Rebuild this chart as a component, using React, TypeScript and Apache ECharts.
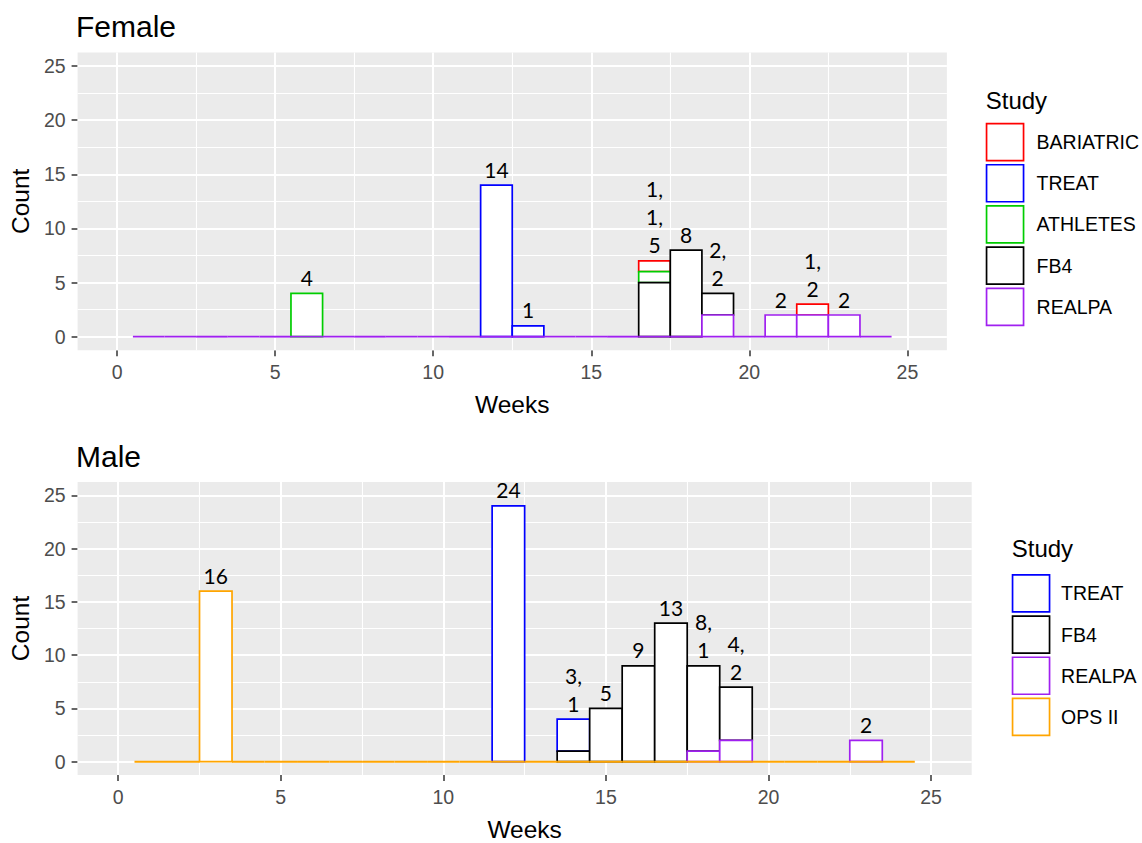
import React, { useEffect, useRef } from "react";
import * as echarts from "echarts";

// ---------- data ----------
const weeks = [1, 2, 3, 4, 5, 6, 7, 8, 9, 10, 11, 12, 13, 14, 15, 16, 17, 18, 19, 20, 21, 22, 23, 24];
const tickValues = [0, 5, 10, 15, 20, 25];
const minorValues = [2.5, 7.5, 12.5, 17.5, 22.5];

const femaleStudies = ["BARIATRIC", "TREAT", "ATHLETES", "FB4", "REALPA"];
const femaleColors = ["#FF0000", "#0000FF", "#00CD00", "#000000", "#A020F0"];
const femaleBariatric = [0, 0, 0, 0, 0, 0, 0, 0, 0, 0, 0, 0, 0, 0, 0, 0, 1, 0, 0, 0, 0, 1, 0, 0];
const femaleTreat = [0, 0, 0, 0, 0, 0, 0, 0, 0, 0, 0, 14, 1, 0, 0, 0, 0, 0, 0, 0, 0, 0, 0, 0];
const femaleAthletes = [0, 0, 0, 0, 0, 4, 0, 0, 0, 0, 0, 0, 0, 0, 0, 0, 1, 0, 0, 0, 0, 0, 0, 0];
const femaleFb4 = [0, 0, 0, 0, 0, 0, 0, 0, 0, 0, 0, 0, 0, 0, 0, 0, 5, 8, 2, 0, 0, 0, 0, 0];
const femaleRealpa = [0, 0, 0, 0, 0, 0, 0, 0, 0, 0, 0, 0, 0, 0, 0, 0, 0, 0, 2, 0, 2, 2, 2, 0];
const femaleLabelWeeks = [6, 12, 13, 17, 18, 19, 21, 22, 23];
const femaleLabels = ["4", "14", "1", "1,\n1,\n5", "8", "2,\n2", "2", "1,\n2", "2"];

const maleStudies = ["TREAT", "FB4", "REALPA", "OPS II"];
const maleColors = ["#0000FF", "#000000", "#A020F0", "#FFA500"];
const maleTreat = [0, 0, 0, 0, 0, 0, 0, 0, 0, 0, 0, 24, 0, 3, 0, 0, 0, 0, 0, 0, 0, 0, 0, 0];
const maleFb4 = [0, 0, 0, 0, 0, 0, 0, 0, 0, 0, 0, 0, 0, 1, 5, 9, 13, 8, 5, 0, 0, 0, 0, 0];
const maleRealpa = [0, 0, 0, 0, 0, 0, 0, 0, 0, 0, 0, 0, 0, 0, 0, 0, 0, 1, 2, 0, 0, 0, 2, 0];
const maleOps = [0, 0, 16, 0, 0, 0, 0, 0, 0, 0, 0, 0, 0, 0, 0, 0, 0, 0, 0, 0, 0, 0, 0, 0];
const maleLabelWeeks = [3, 12, 14, 15, 16, 17, 18, 19, 23];
const maleLabels = ["16", "24", "3,\n1", "5", "9", "13", "8,\n1", "4,\n2", "2"];

const FONT = "'Liberation Sans', Arial, sans-serif";
const LABEL_FONT = "Lato, 'Open Sans', sans-serif";

function buildPanel(
  gridIndex: number,
  studies: string[],
  colors: string[],
  counts: number[][],
  labelWeeks: number[],
  labels: string[]
) {
  // stack from the last study (bottom) upwards
  const bases: number[][] = counts.map(() => weeks.map(() => 0));
  const cum = weeks.map(() => 0);
  for (let s = counts.length - 1; s >= 0; s--) {
    weeks.forEach((_, i) => {
      bases[s][i] = cum[i];
      cum[i] += counts[s][i];
    });
  }
  const series: any[] = [];
  const lineData: any[] = [];
  tickValues.forEach((v) => {
    lineData.push({ yAxis: v, lineStyle: { width: 2 } });
    lineData.push({ xAxis: v, lineStyle: { width: 2 } });
  });
  minorValues.forEach((v) => {
    lineData.push({ yAxis: v, lineStyle: { width: 1.1 } });
    lineData.push({ xAxis: v, lineStyle: { width: 1.1 } });
  });
  series.push({
    type: "line",
    name: "grid" + gridIndex,
    xAxisIndex: gridIndex,
    yAxisIndex: gridIndex,
    data: [],
    silent: true,
    z: 1,
    markLine: {
      silent: true,
      z: 1,
      symbol: ["none", "none"],
      label: { show: false },
      emphasis: { disabled: true },
      lineStyle: { color: "#FFFFFF", type: "solid" },
      data: lineData,
    },
  });
  const last = studies.length - 1;
  studies.forEach((name, s) => {
    const color = colors[s];
    series.push({
      type: "custom",
      name,
      xAxisIndex: gridIndex,
      yAxisIndex: gridIndex,
      z: 2,
      silent: true,
      itemStyle: { color: "#FFFFFF", borderColor: color },
      data: weeks.map((w, i) => [w, bases[s][i], bases[s][i] + counts[s][i]]),
      renderItem: (params: any, api: any) => {
        const lo = api.value(1);
        const hi = api.value(2);
        if (hi === lo && s !== last) return null;
        const p0 = api.coord([api.value(0) - 0.5, lo]);
        const p1 = api.coord([api.value(0) + 0.5, hi]);
        if (hi === lo) {
          return {
            type: "line",
            shape: { x1: p0[0], y1: p0[1], x2: p1[0], y2: p0[1] },
            style: { stroke: color, lineWidth: 1.9 },
          };
        }
        return {
          type: "rect",
          shape: { x: p0[0], y: p1[1], width: p1[0] - p0[0], height: p0[1] - p1[1] },
          style: { fill: "#FFFFFF", stroke: color, lineWidth: 1.7 },
        };
      },
    });
  });
  series.push({
    type: "custom",
    name: "labels" + gridIndex,
    xAxisIndex: gridIndex,
    yAxisIndex: gridIndex,
    z: 3,
    silent: true,
    data: labelWeeks.map((w) => [w, cum[weeks.indexOf(w)]]),
    renderItem: (params: any, api: any) => {
      const p = api.coord([api.value(0), api.value(1)]);
      return {
        type: "text",
        x: p[0],
        y: p[1] - 2,
        style: {
          text: labels[params.dataIndex],
          fill: "#000000",
          fontSize: 21,
          fontFamily: LABEL_FONT,
          lineHeight: 28,
          align: "center",
          verticalAlign: "bottom",
        },
      };
    },
  });
  return series;
}

function axisPair(gridIndex: number) {
  const x = {
    type: "value",
    gridIndex,
    min: -1.25,
    max: 26.25,
    name: "Weeks",
    nameLocation: "middle",
    nameGap: 42,
    nameTextStyle: { fontSize: 24.5, color: "#000000", fontFamily: FONT },
    axisLine: { show: false, onZero: false },
    axisTick: { show: true, customValues: tickValues, length: 6, lineStyle: { color: "#333333", width: 1.5 } },
    axisLabel: { customValues: tickValues, color: "#4D4D4D", fontSize: 19.5, fontFamily: FONT, margin: 12 },
    splitLine: { show: false },
  };
  const y = {
    type: "value",
    gridIndex,
    min: -1.25,
    max: 26.25,
    name: "Count",
    nameLocation: "middle",
    nameRotate: 90,
    nameGap: 44,
    nameTextStyle: { fontSize: 24.5, color: "#000000", fontFamily: FONT },
    axisLine: { show: false, onZero: false },
    axisTick: { show: true, customValues: tickValues, length: 6, lineStyle: { color: "#333333", width: 1.5 } },
    axisLabel: { customValues: tickValues, color: "#4D4D4D", fontSize: 19.5, fontFamily: FONT, margin: 12 },
    splitLine: { show: false },
  };
  return { x, y };
}

function legendFor(studies: string[], colors: string[], left: number, top: number, textPad: number) {
  return {
    orient: "vertical",
    left,
    top,
    padding: 0,
    itemWidth: 37,
    itemHeight: 37,
    itemGap: 2.5,
    selectedMode: false,
    textStyle: { fontSize: 19.5, color: "#000000", fontFamily: FONT, padding: [0, 0, 0, textPad] },
    data: studies.map((name, i) => ({
      name,
      icon: "rect",
      itemStyle: { color: "#FFFFFF", borderColor: colors[i], borderWidth: 1.7 },
    })),
  };
}

export default function App() {
  const ref = useRef<HTMLDivElement>(null);
  useEffect(() => {
    if (!ref.current) return;
    const chart = echarts.init(ref.current, null, { renderer: "svg" });
    const a0 = axisPair(0);
    const a1 = axisPair(1);
    const option: any = {
      animation: false,
      backgroundColor: "#FFFFFF",
      title: [
        { text: "Female", left: 76, top: 11, padding: 0, textStyle: { fontSize: 30, fontWeight: "normal", color: "#000000", fontFamily: FONT } },
        { text: "Male", left: 76, top: 441, padding: 0, textStyle: { fontSize: 30, fontWeight: "normal", color: "#000000", fontFamily: FONT } },
        { text: "Study", left: 985.7, top: 88, padding: 0, textStyle: { fontSize: 24, fontWeight: "normal", color: "#000000", fontFamily: FONT } },
        { text: "Study", left: 1011.7, top: 536, padding: 0, textStyle: { fontSize: 24, fontWeight: "normal", color: "#000000", fontFamily: FONT } },
      ],
      legend: [
        legendFor(femaleStudies, femaleColors, 985.7, 122.7, 8),
        legendFor(maleStudies, maleColors, 1011.7, 574, 6.5),
      ],
      grid: [
        { left: 76, top: 52.5, width: 870.9, height: 297.7, show: true, backgroundColor: "#EBEBEB", borderWidth: 0, containLabel: false },
        { left: 76.3, top: 482, width: 895.4, height: 298.5, show: true, backgroundColor: "#EBEBEB", borderWidth: 0, containLabel: false },
      ],
      xAxis: [a0.x, a1.x],
      yAxis: [a0.y, a1.y],
      series: [
        ...buildPanel(0, femaleStudies, femaleColors, [femaleBariatric, femaleTreat, femaleAthletes, femaleFb4, femaleRealpa], femaleLabelWeeks, femaleLabels),
        ...buildPanel(1, maleStudies, maleColors, [maleTreat, maleFb4, maleRealpa, maleOps], maleLabelWeeks, maleLabels),
      ],
    };
    chart.setOption(option);
    return () => chart.dispose();
  }, []);
  return <div ref={ref} style={{ position: "absolute", left: 0, top: 0, width: 1142, height: 843 }} />;
}
